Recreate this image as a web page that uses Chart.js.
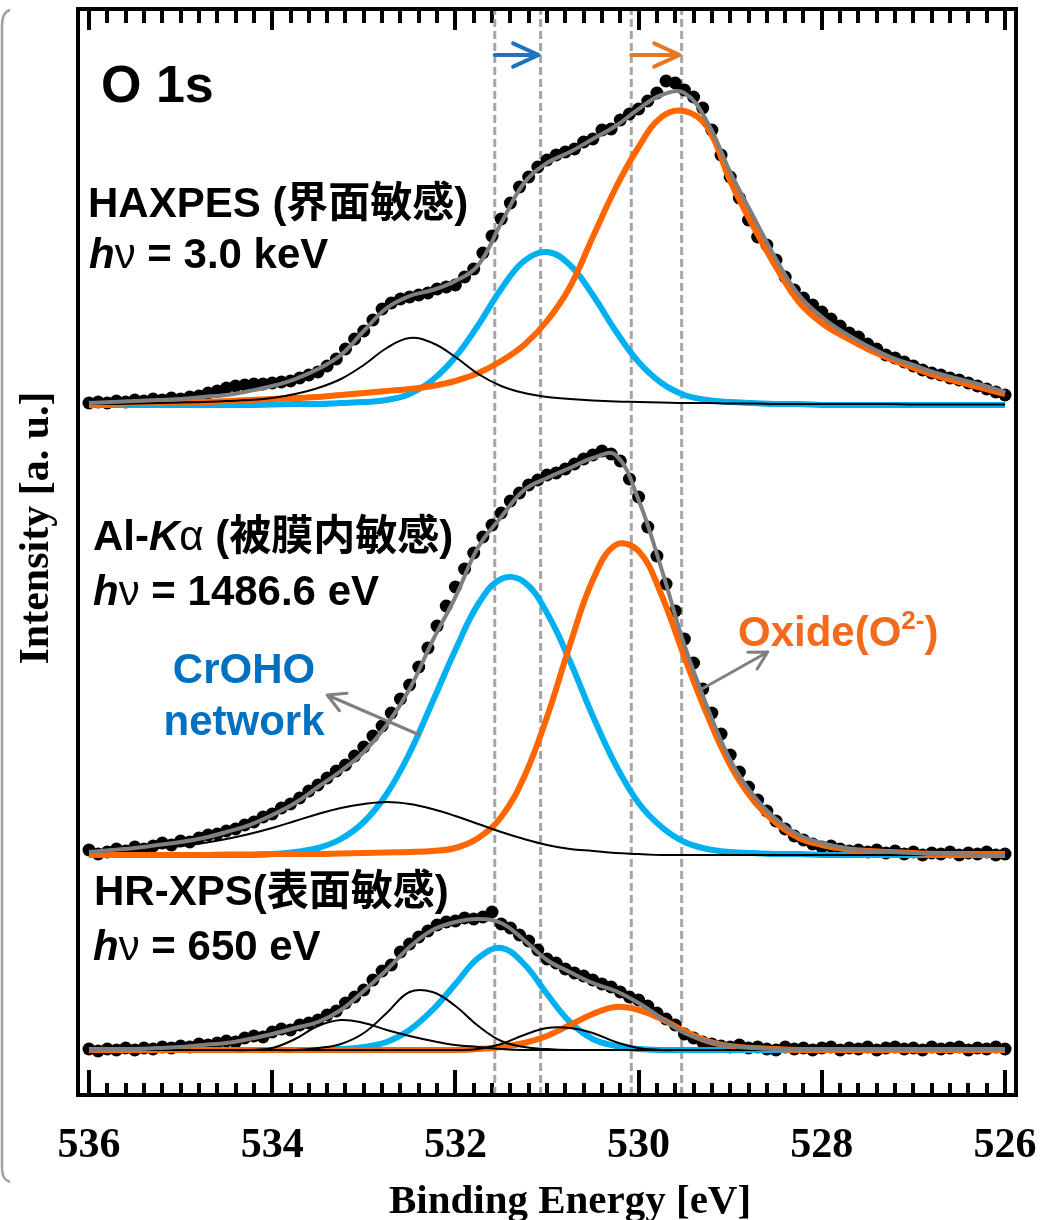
<!DOCTYPE html>
<html>
<head>
<meta charset="utf-8">
<script src="https://cdn.jsdelivr.net/npm/chart.js@4.4.1/dist/chart.umd.min.js"></script>
<style>
  html, body { margin: 0; padding: 0; background: #fff; }
  canvas { display: block; }
</style>
</head>
<body>
<canvas id="xps" width="1061" height="1220"></canvas>
<script>
// binding energy grid for fitted curves (eV)
const fitEnergy = [536, 535.75, 535.5, 535.25, 535, 534.75, 534.5, 534.25, 534, 533.75, 533.5, 533.25, 533, 532.75, 532.5, 532.25, 532, 531.75, 531.5, 531.25, 531, 530.75, 530.5, 530.25, 530, 529.75, 529.5, 529.25, 529, 528.75, 528.5, 528.25, 528, 527.75, 527.5, 527.25, 527, 526.75, 526.5, 526.25, 526];
// measured points, 0.1 eV step
const dotEnergy = [536.0, 535.9, 535.8, 535.7, 535.6, 535.5, 535.4, 535.3, 535.2, 535.1, 535.0, 534.9, 534.8, 534.7, 534.6, 534.5, 534.4, 534.3, 534.2, 534.1, 534.0, 533.9, 533.8, 533.7, 533.6, 533.5, 533.4, 533.3, 533.2, 533.1, 533.0, 532.9, 532.8, 532.7, 532.6, 532.5, 532.4, 532.3, 532.2, 532.1, 532.0, 531.9, 531.8, 531.7, 531.6, 531.5, 531.4, 531.3, 531.2, 531.1, 531.0, 530.9, 530.8, 530.7, 530.6, 530.5, 530.4, 530.3, 530.2, 530.1, 530.0, 529.9, 529.8, 529.7, 529.6, 529.5, 529.4, 529.3, 529.2, 529.1, 529.0, 528.9, 528.8, 528.7, 528.6, 528.5, 528.4, 528.3, 528.2, 528.1, 528.0, 527.9, 527.8, 527.7, 527.6, 527.5, 527.4, 527.3, 527.2, 527.1, 527.0, 526.9, 526.8, 526.7, 526.6, 526.5, 526.4, 526.3, 526.2, 526.1, 526.0];

// vertical offsets of the stacked spectra
const offsetHaxpes = 69.0;
const offsetAlka = 24.0;
const offsetHrxps = 4.5;

// HAXPES hv = 3.0 keV
const haxpesDots = [0.2, 0.3, 0.2, 0.4, 0.3, 0.5, 0.4, 0.6, 0.5, 0.7,
  0.6, 0.8, 0.9, 1.2, 1.4, 1.7, 1.9, 2.0, 2.1, 2.1,
  2.2, 2.3, 2.4, 2.7, 3.0, 3.3, 3.9, 4.6, 5.6, 6.6,
  7.4, 8.5, 9.6, 10.2, 10.6, 10.8, 11.0, 11.2, 11.6, 11.8,
  12.0, 12.8, 13.6, 15.2, 16.9, 18.6, 20.2, 21.8, 22.8, 23.8,
  24.5, 25.0, 25.3, 25.6, 26.3, 26.6, 27.5, 27.6, 28.5, 29.1,
  29.6, 30.4, 31.2, 32.4, 32.2, 31.5, 30.8, 29.7, 27.5, 25.0,
  22.8, 20.7, 18.5, 16.8, 16.0, 14.5, 12.8, 11.5, 10.7, 10.0,
  9.3, 8.6, 7.9, 7.2, 6.8, 6.1, 5.6, 5.0, 4.7, 4.3,
  3.9, 3.5, 3.2, 3.0, 2.7, 2.5, 2.2, 1.9, 1.6, 1.3,
  1.0];
const haxpesFit = [0.2, 0.3, 0.4, 0.5, 0.6, 0.8, 1.0, 1.4, 1.9, 2.6, 3.6, 5.0, 7.4, 9.7, 10.9, 11.5, 12.4, 14.0, 18.2, 22.2, 24.2, 25.3, 26.6, 27.9, 29.6, 31.0, 31.2, 28.3, 23.3, 18.9, 14.6, 11.0, 8.8, 7.2, 5.9, 4.8, 4.0, 3.2, 2.6, 2.0, 1.3];
const haxpesOxide = [0.1, 0.1, 0.2, 0.2, 0.3, 0.3, 0.4, 0.5, 0.6, 0.7, 0.8, 1.0, 1.2, 1.4, 1.6, 1.9, 2.4, 3.2, 4.4, 6.0, 8.4, 11.8, 16.8, 21.7, 25.8, 28.8, 29.4, 27.8, 22.4, 17.9, 13.8, 10.3, 8.2, 6.8, 5.6, 4.6, 3.7, 2.9, 2.3, 1.7, 1.1];
const haxpesCrOHO = [0, 0, 0, 0, 0, 0, 0, 0, 0.05, 0.1, 0.1, 0.2, 0.3, 0.5, 1.1, 2.5, 4.8, 8.0, 11.6, 14.4, 15.3, 14.0, 11.0, 7.4, 4.3, 2.2, 1.0, 0.5, 0.3, 0.2, 0.1, 0.1, 0, 0, 0, 0, 0, 0, 0, 0, 0];
const haxpesOther = [0.1, 0.1, 0.15, 0.2, 0.25, 0.3, 0.4, 0.5, 0.7, 1.1, 1.7, 2.6, 4.0, 5.7, 6.7, 6.2, 4.8, 3.1, 1.9, 1.2, 0.8, 0.6, 0.45, 0.35, 0.3, 0.25, 0.2, 0.2, 0.15, 0.15, 0.1, 0.1, 0.1, 0.1, 0.1, 0.1, 0.05, 0.05, 0.05, 0.05, 0.05];

// Al-Ka hv = 1486.6 eV
const alkaDots = [0.5, 0.1, 0.3, 0.6, 0.4, 0.8, 0.6, 0.9, 1.2, 1.0,
  1.4, 1.3, 1.7, 2.0, 2.1, 2.4, 2.6, 3.0, 3.3, 3.8,
  4.1, 4.7, 5.1, 5.7, 6.4, 7.0, 7.7, 8.4, 9.0, 9.9,
  10.8, 11.9, 12.9, 14.2, 15.6, 17.0, 18.8, 20.7, 22.9, 24.9,
  26.8, 28.6, 30.2, 31.8, 33.0, 34.2, 35.4, 36.2, 37.0, 37.5,
  38.0, 38.2, 38.6, 39.1, 39.6, 40.0, 40.4, 40.1, 39.4, 37.6,
  35.8, 32.8, 29.9, 27.1, 24.4, 21.6, 19.2, 16.6, 14.2, 12.1,
  10.0, 8.3, 6.8, 5.5, 4.4, 3.4, 2.6, 1.9, 1.5, 1.1,
  0.8, 0.9, 0.6, 0.4, 0.5, 0.3, 0.5, 0.2, 0.4, 0.1,
  0.3, 0.0, 0.2, 0.1, 0.3, 0.0, 0.2, 0.1, 0.3, 0.0,
  0.1];
const alkaFit = [0.3, 0.5, 0.7, 1.0, 1.3, 1.7, 2.3, 3.0, 4.0, 5.2, 6.8, 8.4, 10.3, 13.0, 16.6, 21.4, 25.8, 30.8, 33.8, 36.5, 37.7, 38.7, 39.7, 40.0, 35.5, 28.6, 21.0, 14.8, 9.5, 6.0, 3.6, 2.0, 1.2, 0.7, 0.4, 0.3, 0.2, 0.1, 0.1, 0.0, 0.0];
const alkaOxide = [0, 0, 0, 0, 0, 0, 0.05, 0.05, 0.1, 0.1, 0.1, 0.15, 0.2, 0.25, 0.3, 0.4, 0.7, 1.7, 3.8, 7.8, 13.8, 21.0, 27.5, 31.0, 30.4, 26.0, 19.8, 14.0, 9.0, 5.5, 3.2, 1.7, 1.0, 0.6, 0.4, 0.3, 0.2, 0.1, 0.1, 0.1, 0.1];
const alkaCrOHO = [0, 0, 0, 0, 0, 0, 0, 0, 0.1, 0.3, 0.7, 1.6, 3.3, 6.1, 10.2, 15.3, 20.5, 25.1, 27.6, 27.3, 24.2, 19.4, 13.9, 9.0, 5.2, 2.8, 1.3, 0.6, 0.3, 0.2, 0.1, 0.1, 0, 0, 0, 0, 0, 0, 0, 0, 0];
const alkaOther = [0.3, 0.4, 0.5, 0.7, 0.9, 1.2, 1.6, 2.1, 2.7, 3.4, 4.1, 4.7, 5.1, 5.3, 5.1, 4.6, 3.9, 3.1, 2.3, 1.6, 1.0, 0.6, 0.4, 0.2, 0.1, 0, 0, 0, 0, 0, 0, 0, 0, 0, 0, 0, 0, 0, 0, 0, 0];

// HR-XPS hv = 650 eV
const hrxpsDots = [0.1, -0.1, 0.1, 0.0, 0.2, 0.0, 0.2, 0.1, 0.3, 0.2,
  0.4, 0.3, 0.6, 0.5, 0.7, 0.9, 0.8, 1.2, 1.4, 1.3,
  1.8, 2.1, 2.0, 2.5, 2.7, 3.0, 3.5, 3.9, 4.7, 5.3,
  6.0, 7.0, 7.9, 8.5, 9.8, 10.6, 11.3, 11.9, 12.5, 12.8,
  12.9, 13.2, 13.1, 13.3, 13.8, 12.6, 12.2, 11.5, 10.9, 10.0,
  9.1, 8.7, 8.1, 7.7, 7.4, 7.0, 6.6, 6.3, 5.8, 5.3,
  5.0, 4.4, 3.7, 3.1, 2.5, 1.6, 1.2, 0.8, 0.6, 0.4,
  0.3, 0.5, 0.2, 0.3, 0.1, 0.0, 0.3, 0.1, 0.2, 0.0,
  0.2, 0.3, 0.0, 0.2, 0.1, 0.3, 0.0, 0.2, 0.3, 0.1,
  0.2, 0.0, 0.3, 0.1, 0.2, 0.3, 0.0, 0.2, 0.1, 0.3,
  0.1];
const hrxpsFit = [0.0, 0.1, 0.1, 0.2, 0.3, 0.5, 0.7, 1.1, 1.6, 2.2, 2.8, 4.0, 5.9, 8.0, 10.3, 12.0, 12.8, 13.1, 12.7, 11.0, 9.0, 7.8, 6.7, 5.9, 4.7, 3.2, 1.7, 0.9, 0.4, 0.2, 0.1, 0.1, 0.1, 0.1, 0.1, 0.1, 0.1, 0.1, 0.1, 0.1, 0.1];
const hrxpsOxide = [0, 0, 0, 0, 0, 0, 0, 0, 0, 0, 0, 0, 0, 0, 0, 0, 0, 0.1, 0.3, 0.7, 1.4, 2.5, 3.6, 4.3, 4.0, 3.1, 1.9, 0.9, 0.4, 0.2, 0.1, 0, 0, 0, 0, 0, 0, 0, 0, 0, 0];
const hrxpsCrOHO = [0, 0, 0, 0, 0, 0, 0, 0, 0, 0, 0, 0.1, 0.3, 0.8, 2.0, 4.0, 6.6, 9.2, 10.2, 8.6, 5.6, 2.8, 1.1, 0.4, 0.1, 0, 0, 0, 0, 0, 0, 0, 0, 0, 0, 0, 0, 0, 0, 0, 0];
const hrxpsOther1 = [0, 0, 0, 0, 0, 0, 0, 0, 0, 0, 0.2, 0.6, 1.7, 3.7, 5.8, 5.8, 4.4, 2.4, 0.9, 0.3, 0.1, 0, 0, 0, 0, 0, 0, 0, 0, 0, 0, 0, 0, 0, 0, 0, 0, 0, 0, 0, 0];
const hrxpsOther2 = [0, 0, 0, 0, 0, 0, 0, 0, 0.2, 1.1, 2.4, 3.0, 2.7, 2.0, 1.4, 0.9, 0.5, 0.3, 0.1, 0, 0, 0, 0, 0, 0, 0, 0, 0, 0, 0, 0, 0, 0, 0, 0, 0, 0, 0, 0, 0, 0];
const hrxpsOther3 = [0, 0, 0, 0, 0, 0, 0, 0, 0, 0, 0, 0, 0, 0, 0, 0, 0, 0.1, 0.6, 1.5, 2.2, 2.2, 1.7, 0.8, 0.2, 0, 0, 0, 0, 0, 0, 0, 0, 0, 0, 0, 0, 0, 0, 0, 0];

// peak positions marked with dashed lines (eV)
const peakMarks = [531.57, 531.07, 530.08, 529.53];

const BLUE = "#00b0f0";
const ORANGE = "#ff6600";
const GRAY = "#7f7f7f";
const SANS = '"Liberation Sans", Arial, "Noto Sans CJK JP", sans-serif';
const SERIF = '"Liberation Serif", "Times New Roman", serif';

const curve = (values, offset, color, width, order) => ({
  type: "line",
  order: order,
  data: fitEnergy.map((e, i) => ({ x: e, y: values[i] + offset })),
  borderColor: color,
  borderWidth: width,
  pointRadius: 0,
  tension: 0.4,
  fill: false
});

const dots = (values, offset) => ({
  type: "scatter",
  order: 6,
  data: dotEnergy.map((e, i) => ({ x: e, y: values[i] + offset })),
  backgroundColor: "#000",
  borderWidth: 0,
  pointRadius: 6.5
});

const spectra = [
  { dots: haxpesDots, fit: haxpesFit, oxide: haxpesOxide, croho: haxpesCrOHO, other: [haxpesOther], offset: offsetHaxpes },
  { dots: alkaDots, fit: alkaFit, oxide: alkaOxide, croho: alkaCrOHO, other: [alkaOther], offset: offsetAlka },
  { dots: hrxpsDots, fit: hrxpsFit, oxide: hrxpsOxide, croho: hrxpsCrOHO, other: [hrxpsOther1, hrxpsOther2, hrxpsOther3], offset: offsetHrxps }
];

const datasets = [];
peakMarks.forEach((e) => {
  datasets.push({
    type: "line",
    order: 10,
    data: [{ x: e, y: 0 }, { x: e, y: 108.6 }],
    borderColor: "#a6a6a6",
    borderWidth: 3,
    borderDash: [8, 4],
    pointRadius: 0
  });
});
spectra.forEach((s) => {
  datasets.push(dots(s.dots, s.offset));
  datasets.push(curve(s.croho, s.offset, BLUE, 6, 4));
  datasets.push(curve(s.oxide, s.offset, ORANGE, 6, 3));
  s.other.forEach((o) => datasets.push(curve(o, s.offset, "#000", 2, 2)));
  datasets.push(curve(s.fit, s.offset, GRAY, 4, 1));
});

const xRange = { min: 525.88, max: 536.12, reverse: true };
const tickAxis = (position, step, length) => ({
  type: "linear",
  position: position,
  ...xRange,
  weight: 0,
  ticks: { display: false, stepSize: step, includeBounds: false, autoSkip: false },
  grid: { drawOnChartArea: false, tickLength: length, tickColor: "#000", tickWidth: 4, lineWidth: 4 },
  border: { display: false },
  afterFit: (s) => { s.height = 0; }
});

// arrows and labels drawn on top of the plot
const arrow = (ctx, x1, y1, x2, y2, head, spread) => {
  const ang = Math.atan2(y2 - y1, x2 - x1);
  ctx.beginPath();
  ctx.moveTo(x1, y1);
  ctx.lineTo(x2, y2);
  ctx.moveTo(x2 - head * Math.cos(ang - spread), y2 - head * Math.sin(ang - spread));
  ctx.lineTo(x2, y2);
  ctx.lineTo(x2 - head * Math.cos(ang + spread), y2 - head * Math.sin(ang + spread));
  ctx.stroke();
};

const runs = (ctx, x, y, parts, size) => {
  parts.forEach((p) => {
    const sz = p.size || size;
    ctx.font = (p.italic ? "italic " : "") + (p.normal ? "" : "bold ") + sz + "px " + SANS;
    ctx.fillText(p.t, x, y + (p.dy || 0));
    x += ctx.measureText(p.t).width;
  });
};

const annotate = {
  id: "annotate",
  afterDatasetsDraw(chart) {
    const { ctx, chartArea: a } = chart;
    const x = chart.scales.x;
    const y = chart.scales.y;
    ctx.save();

    // plot frame
    ctx.strokeStyle = "#000";
    ctx.lineWidth = 4;
    ctx.strokeRect(a.left, a.top, a.right - a.left, a.bottom - a.top);

    // slide frame remnant on the far left
    ctx.strokeStyle = "#a0a0a0";
    ctx.lineWidth = 2.5;
    ctx.beginPath();
    ctx.moveTo(10, 10);
    ctx.quadraticCurveTo(2, 12, 2, 26);
    ctx.lineTo(2, 1168);
    ctx.quadraticCurveTo(2, 1180, 10, 1182);
    ctx.stroke();

    // shift arrows at the top
    ctx.lineCap = "round";
    ctx.lineJoin = "round";
    ctx.lineWidth = 4;
    ctx.strokeStyle = "#1f72c0";
    arrow(ctx, x.getPixelForValue(peakMarks[0]), y.getPixelForValue(104), x.getPixelForValue(peakMarks[1]) - 2, y.getPixelForValue(104), 28, 0.43);
    ctx.strokeStyle = "#e87722";
    arrow(ctx, x.getPixelForValue(peakMarks[2]), y.getPixelForValue(104), x.getPixelForValue(peakMarks[3]) - 2, y.getPixelForValue(104), 28, 0.43);

    // pointer arrows
    ctx.strokeStyle = "#808080";
    ctx.lineWidth = 3;
    arrow(ctx, x.getPixelForValue(532.39), y.getPixelForValue(36.0), x.getPixelForValue(533.40), y.getPixelForValue(40.0), 20, 0.5);
    arrow(ctx, x.getPixelForValue(529.33), y.getPixelForValue(40.5), x.getPixelForValue(528.59), y.getPixelForValue(44.3), 20, 0.5);

    // texts
    ctx.fillStyle = "#000";
    ctx.textBaseline = "alphabetic";
    ctx.textAlign = "left";
    ctx.font = "bold 52px " + SANS;
    ctx.fillText("O 1s", 101, 102);

    runs(ctx, 88, 217, [{ t: "HAXPES (界面敏感)" }], 42);
    runs(ctx, 89, 268, [{ t: "h", italic: true }, { t: "ν", normal: true }, { t: " = 3.0 keV" }], 42);
    runs(ctx, 93, 550, [{ t: "Al-" }, { t: "K", italic: true }, { t: "α", normal: true }, { t: " (被膜内敏感)" }], 42);
    runs(ctx, 93, 605, [{ t: "h", italic: true }, { t: "ν", normal: true }, { t: " = 1486.6 eV" }], 42);
    runs(ctx, 94, 905, [{ t: "HR-XPS(表面敏感)" }], 42);
    runs(ctx, 93, 960, [{ t: "h", italic: true }, { t: "ν", normal: true }, { t: " = 650 eV" }], 42);

    ctx.fillStyle = "#0070c0";
    ctx.textAlign = "center";
    ctx.font = "bold 42px " + SANS;
    ctx.fillText("CrOHO", 244, 683);
    ctx.fillText("network", 244, 735);

    ctx.textAlign = "left";
    ctx.fillStyle = "#f26b1d";
    runs(ctx, 738, 646, [{ t: "Oxide(O" }, { t: "2-", size: 26, dy: -17 }, { t: ")" }], 42);

    // axis titles
    ctx.fillStyle = "#000";
    ctx.textAlign = "center";
    ctx.font = "bold 41px " + SERIF;
    ctx.fillText("Binding Energy [eV]", 570, 1213);
    ctx.translate(48, 528);
    ctx.rotate(-Math.PI / 2);
    ctx.font = "bold 42px " + SERIF;
    ctx.fillText("Intensity [a. u.]", 0, 0);
    ctx.restore();
  }
};

new Chart(document.getElementById("xps"), {
  type: "scatter",
  data: { datasets: datasets },
  options: {
    responsive: false,
    animation: false,
    events: [],
    layout: { padding: { top: 9, right: 45, left: 0, bottom: 0 } },
    plugins: { legend: { display: false }, tooltip: { enabled: false } },
    scales: {
      x: {
        type: "linear",
        position: "bottom",
        ...xRange,
        weight: 10,
        ticks: {
          stepSize: 2,
          includeBounds: false,
          autoSkip: false,
          maxRotation: 0,
          padding: 18,
          color: "#000",
          font: { family: SERIF, size: 42, weight: "bold" }
        },
        grid: { display: false },
        border: { display: false },
        afterFit: (s) => { s.height = 125; }
      },
      xMajB: tickAxis("bottom", 2, -25),
      xMinB: tickAxis("bottom", 0.2, -12),
      xMajT: tickAxis("top", 2, -21),
      xMinT: tickAxis("top", 0.2, -14),
      y: {
        type: "linear",
        min: 0,
        max: 108.6,
        ticks: { display: false },
        grid: { display: false },
        border: { display: false },
        afterFit: (s) => { s.width = 78; }
      }
    }
  },
  plugins: [annotate]
});
</script>
</body>
</html>
